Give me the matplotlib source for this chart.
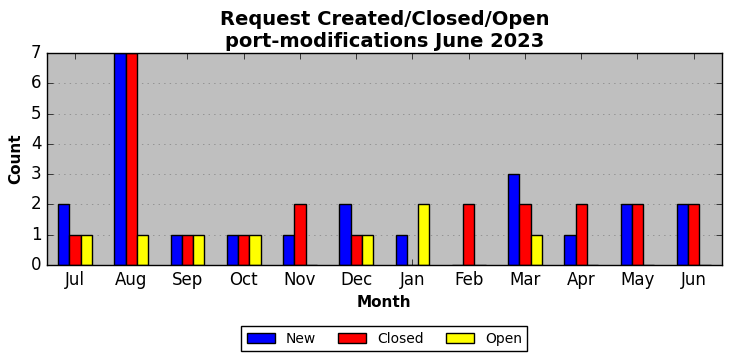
import matplotlib
matplotlib.use("Agg")
import matplotlib.pyplot as plt
import numpy as np

plt.style.use('classic')

months = ["Jul", "Aug", "Sep", "Oct", "Nov", "Dec", "Jan", "Feb", "Mar", "Apr", "May", "Jun"]
new = [2, 7, 1, 1, 1, 2, 1, 0, 3, 1, 2, 2]
closed = [1, 7, 1, 1, 2, 1, 0, 2, 2, 2, 2, 2]
open_ = [1, 1, 1, 1, 0, 1, 2, 0, 1, 0, 0, 0]

fig = plt.figure(figsize=(7.32, 3.61), dpi=100)
fig.patch.set_facecolor('white')
ax = fig.add_axes([0.064, 0.266, 0.922, 0.587])
ax.set_facecolor('#bfbfbf')
x = np.arange(len(months))
w = 0.2
ax.bar(x - w, new, w, color='blue', edgecolor='black', label='New', align='center')
ax.bar(x, closed, w, color='red', edgecolor='black', label='Closed', align='center')
ax.bar(x + w, open_, w, color='yellow', edgecolor='black', label='Open', align='center')
ax.set_xlim(-0.5, len(months) - 0.5)
ax.set_ylim(0, 7)
ax.set_xticks(x)
ax.set_xticklabels(months)
ax.yaxis.grid(True, linestyle=':', color='gray')
ax.set_axisbelow(True)
ax.set_xlabel('Month', fontweight='bold', fontsize=11)
ax.set_ylabel('Count', fontweight='bold', fontsize=11)
ax.set_title('Request Created/Closed/Open\nport-modifications June 2023', fontweight='bold', fontsize=14, y=0.995)
fig.legend(loc='lower center', bbox_to_anchor=(0.525, 0.008), ncol=3, fontsize=10,
           fancybox=False, columnspacing=1.6)
fig.savefig('out.png', dpi=100)
